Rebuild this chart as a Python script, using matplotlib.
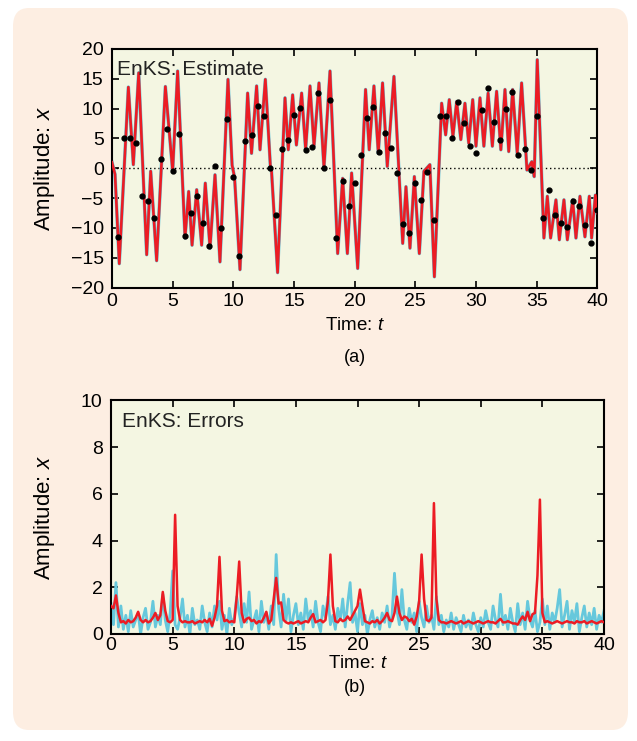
import numpy as np
import matplotlib
matplotlib.use('Agg')
import matplotlib.pyplot as plt
from matplotlib.patches import FancyBboxPatch

plt.rcParams['font.family'] = ['Liberation Sans', 'DejaVu Sans']
plt.rcParams['mathtext.fontset'] = 'custom'
plt.rcParams['mathtext.it'] = 'Liberation Sans:italic'
plt.rcParams['mathtext.rm'] = 'Liberation Sans'

# (a) smoother estimate, turning points
est_t = [0.0, 0.25, 0.6, 1.35, 1.76, 2.2, 2.86, 3.19, 3.68, 4.4, 5.0, 5.41,
         6.02, 6.32, 6.6, 6.98, 7.39, 7.69, 8.08, 8.49, 8.9, 9.56, 9.9, 10.1,
         10.55, 11.18, 11.5, 11.92, 12.2, 12.64, 13.05, 13.15, 13.65, 14.26,
         14.53, 14.89, 15.2, 15.63, 15.96, 16.32, 16.65, 17.06, 17.47, 17.97,
         18.6, 19.01, 19.4, 19.75, 20.25, 20.9, 21.2, 21.59, 21.95, 22.3,
         22.69, 23.24, 23.96, 24.23, 24.56, 24.92, 25.33, 25.71, 26.2, 26.57,
         27.17, 27.5, 27.8, 28.1, 28.41, 28.75, 29.09, 29.4, 29.73, 30.0,
         30.33, 30.65, 31.0, 31.35, 31.7, 32.05, 32.39, 32.7, 33.02, 33.4,
         33.76, 34.2, 34.6, 34.8, 35.05, 35.6, 35.88, 36.15, 36.59, 36.87,
         37.25, 37.53, 37.97, 38.24, 38.57, 38.98, 39.34, 39.53, 39.84, 40.0]
est_v = [1.0, -1.0, -16.0, 13.6, 0.6, 16.0, -14.5, -0.5, -15.5, 13.7, -0.5, 16.3,
         -11.7, -3.9, -12.9, -3.6, -12.9, -2.5, -13.4, -1.1, -15.7, 14.9, 0.5, -1.5,
         -17.0, 12.6, 2.5, 13.8, 3.1, 14.9, 0.5, -0.5, -17.5, 11.8,
         3.1, 12.3, 3.9, 12.6, 3.1, 13.8, 3.7, 14.3, 0.0, 16.3,
         -14.3, -1.7, -14.3, -0.8, -16.8, 13.2, 3.1, 13.8, 2.5, 14.3,
         0.3, 15.4, -12.6, -3.1, -13.4, -1.4, -14.3, -0.5, 0.6, -18.2,
         10.9, 5.6, 11.5, 5.3, 11.2, 4.8, 10.9, 4.2, 11.5, 3.7,
         11.8, 3.7, 12.6, 3.7, 12.9, 3.1, 13.2, 2.8, 13.2, 2.5,
         14.3, -0.3, 1.1, -1.4, 18.2, -11.7, -4.7, -11.7, -5.3, -12.0,
         -5.3, -12.0, -5.3, -11.7, -4.7, -11.5, -4.7, -11.7, -4.5, -7.5]

# observations every 0.5 time units
obs_t = np.arange(1, 81) * 0.5
obs_v = [-11.6, 5.0, 5.0, 4.3, -4.7, -5.5, -8.3, 1.5, 6.5, -0.4,
         5.7, -11.3, -7.5, -4.7, -9.1, -13.1, 0.3, -10.0, 8.3, -1.4,
         -14.7, 4.5, 5.5, 10.4, 8.8, 0.1, -7.9, 3.3, 4.8, 8.9,
         10.1, 3.0, 3.6, 12.6, 0.0, 11.5, -11.7, -2.2, -6.4, -2.5,
         2.2, 8.5, 10.3, 2.8, 5.9, 3.4, -0.8, -9.4, -10.8, -2.5,
         -5.4, -0.7, -8.7, 8.8, 8.8, 5.1, 11.1, 7.6, 3.7, 2.5,
         9.8, 13.4, 7.7, 4.8, 10.0, 12.8, 2.2, 3.3, -0.25, 8.8,
         -8.3, -3.7, -7.9, -9.2, -9.8, -5.5, -6.3, -9.6, -12.5, -7.0]

# (b) errors, sampled every 0.2 time units
err_t = np.linspace(0, 40, 201)
err_smooth = [1.2, 1.1, 1.65, 0.9, 0.5, 0.55, 0.45, 0.6, 0.5, 0.55, 0.7,
              0.95, 0.6, 0.5, 0.6, 0.5, 0.55, 0.7, 0.9, 0.6, 0.8,
              1.8, 1.0, 0.55, 0.5, 0.6, 5.1, 1.2, 0.6, 0.5, 0.55,
              0.5, 0.5, 0.55, 0.45, 0.5, 0.55, 0.5, 0.6, 0.5, 0.65,
              0.35, 0.7, 1.2, 3.3, 1.0, 0.55, 0.6, 0.5, 0.55, 0.5,
              1.6, 3.1, 0.9, 0.5, 0.65, 0.7, 0.55, 0.6, 0.45, 0.55,
              0.5, 0.7, 0.95, 0.45, 0.6, 1.5, 2.4, 1.3, 1.35, 0.6,
              0.5, 0.45, 0.5, 0.45, 0.5, 0.55, 0.45, 0.5, 0.55, 0.5,
              0.7, 0.85, 0.5, 0.55, 0.6, 0.5, 0.6, 1.4, 3.4, 1.2,
              0.55, 0.5, 0.65, 0.55, 0.6, 0.75, 0.6, 0.8, 1.0, 1.2,
              1.9, 1.2, 0.55, 0.5, 0.45, 0.55, 0.5, 0.6, 0.45, 0.55,
              0.7, 0.9, 0.6, 0.55, 0.9, 1.6, 0.9, 0.6, 0.75, 0.7,
              0.55, 0.65, 0.4, 0.75, 1.4, 3.4, 1.5, 0.6, 0.55, 0.7,
              5.6, 1.5, 0.6, 0.5, 0.5, 0.45, 0.5, 0.55, 0.5, 0.45,
              0.5, 0.55, 0.45, 0.5, 0.55, 0.5, 0.45, 0.5, 0.55, 0.5,
              0.45, 0.5, 0.55, 0.5, 0.5, 0.45, 0.55, 0.65, 0.5, 0.5,
              0.55, 0.5, 0.45, 0.45, 0.4, 0.6, 0.75, 0.6, 0.95, 0.55,
              0.85, 0.9, 2.5, 5.75, 0.9, 0.5, 0.55, 0.5, 0.45, 0.5,
              0.55, 0.5, 0.45, 0.5, 0.55, 0.5, 0.5, 0.45, 0.55, 0.5,
              0.5, 0.55, 0.45, 0.5, 0.55, 0.5, 0.45, 0.5, 0.55, 0.5]
err_raw = [1.3, 0.4, 2.2, 0.3, 1.2, 0.2, 0.8, 0.1, 1.0, 0.3, 0.6,
           0.9, 0.0, 0.7, 1.1, 0.2, 0.5, 1.4, 0.3, 0.8, 0.4,
           1.7, 0.6, 0.1, 0.9, 2.7, 0.4, 0.2, 0.7, 1.5, 0.3,
           0.8, 0.0, 1.1, 0.4, 0.6, 0.2, 1.2, 0.5, 0.1, 0.9,
           0.3, 1.2, 0.6, 1.4, 0.2, 0.8, 0.0, 1.1, 0.4, 0.7,
           1.6, 0.9, 0.3, 1.3, 0.5, 1.8, 0.2, 0.6, 1.0, 0.1,
           1.4, 0.5, 0.9, 0.2, 1.2, 0.4, 3.4, 1.1, 0.3, 1.7,
           0.6, 1.5, 0.1, 0.8, 1.3, 0.4, 0.9, 0.2, 1.5, 0.6,
           1.0, 0.3, 1.4, 0.5, 0.1, 1.2, 0.7, 1.6, 0.4, 0.8,
           0.2, 1.1, 0.6, 1.5, 0.3, 1.3, 2.2, 0.5, 0.9, 0.1,
           1.3, 0.4, 0.8, 0.0, 0.6, 1.0, 0.3, 0.7, 0.2, 0.9,
           0.5, 1.2, 0.3, 0.8, 2.6, 1.0, 0.4, 1.9, 0.6, 0.2,
           1.1, 0.5, 0.9, 0.1, 1.4, 0.7, 0.3, 1.2, 0.5, 0.8,
           0.2, 1.6, 0.4, 0.8, 0.1, 0.6, 0.3, 0.9, 0.2, 0.7,
           0.4, 0.1, 0.8, 0.3, 0.6, 0.2, 0.9, 0.4, 0.1, 0.7,
           0.3, 1.0, 0.5, 0.2, 1.2, 0.6, 0.3, 1.7, 0.4, 0.8,
           0.2, 1.1, 0.5, 0.1, 1.3, 0.4, 0.9, 0.2, 1.4, 0.6,
           0.3, 1.0, 0.1, 0.5, 1.5, 0.4, 1.2, 0.2, 0.9, 0.5,
           1.1, 1.9, 0.3, 0.8, 1.4, 0.2, 1.0, 0.5, 1.3, 0.1,
           0.7, 1.2, 0.3, 0.9, 0.4, 1.1, 0.2, 0.8, 0.5, 1.0]

red = '#ec1c24'
cyan = '#66c8dc'
panel = '#f4f6e2'

fig = plt.figure(figsize=(6.37, 7.41), dpi=100)
fig.patch.set_facecolor('white')
box = FancyBboxPatch((13 / 637, 1 - 730 / 741), 615 / 637, 722 / 741,
                     boxstyle='round,pad=0,rounding_size=0.025',
                     transform=fig.transFigure, facecolor='#fdeee2',
                     edgecolor='none', zorder=-10)
fig.patches.append(box)


def style(ax, xpad):
    ax.set_facecolor(panel)
    ax.tick_params(direction='in', top=True, right=True, length=5,
                   width=1.2, labelsize=14, color='k')
    ax.tick_params(axis='x', pad=xpad)
    ax.tick_params(axis='y', pad=6)
    for s in ax.spines.values():
        s.set_linewidth(1.5)


ax1 = fig.add_axes([0.1758, 0.612, 0.7619, 0.3219])
style(ax1, 4)
ax1.plot(est_t, est_v, color=cyan, lw=2.5, zorder=2)
ax1.plot(est_t, est_v, color=red, lw=1.9, zorder=3)
ax1.axhline(0, color='k', ls=(0, (1, 2)), lw=1, zorder=1)
ax1.plot(obs_t, obs_v, 'o', color='k', ms=3.5, zorder=4)
ax1.set_xlim(0, 40)
ax1.set_ylim(-20, 20)
ax1.set_xticks(range(0, 41, 5))
ax1.set_yticks(range(-20, 21, 5))
ax1.set_yticklabels([str(v).replace('-', '\u2212') for v in range(-20, 21, 5)])
ax1.text(0.01, 0.954, 'EnKS: Estimate', transform=ax1.transAxes,
         va='top', ha='left', fontsize=15, color='#222222')
ax1.set_ylabel('Amplitude: $x$', fontsize=16)
ax1.set_xlabel('Time: $t$', fontsize=13.5)
ax1.yaxis.set_label_coords(-0.113, 0.5)
ax1.xaxis.set_label_coords(0.5, -0.124)

ax2 = fig.add_axes([0.1743, 0.1444, 0.7739, 0.3154])
style(ax2, 2)
ax2.plot(err_t, err_raw, color=cyan, lw=2.0, zorder=2)
ax2.plot(err_t, err_smooth, color=red, lw=1.8, zorder=3)
ax2.set_xlim(0, 40)
ax2.set_ylim(0, 10)
ax2.set_xticks(range(0, 41, 5))
ax2.set_yticks(range(0, 11, 2))
ax2.text(0.022, 0.952, 'EnKS: Errors', transform=ax2.transAxes,
         va='top', ha='left', fontsize=15, color='#222222')
ax2.set_ylabel('Amplitude: $x$', fontsize=16)
ax2.set_xlabel('Time: $t$', fontsize=13.5)
ax2.yaxis.set_label_coords(-0.11, 0.5)
ax2.xaxis.set_label_coords(0.5, -0.09)

fig.text(355 / 637, 1 - 357 / 741, '(a)', ha='center', va='center', fontsize=13)
fig.text(355 / 637, 1 - 688 / 741, '(b)', ha='center', va='center', fontsize=13)

fig.savefig('out.png', dpi=100, facecolor=fig.get_facecolor())
